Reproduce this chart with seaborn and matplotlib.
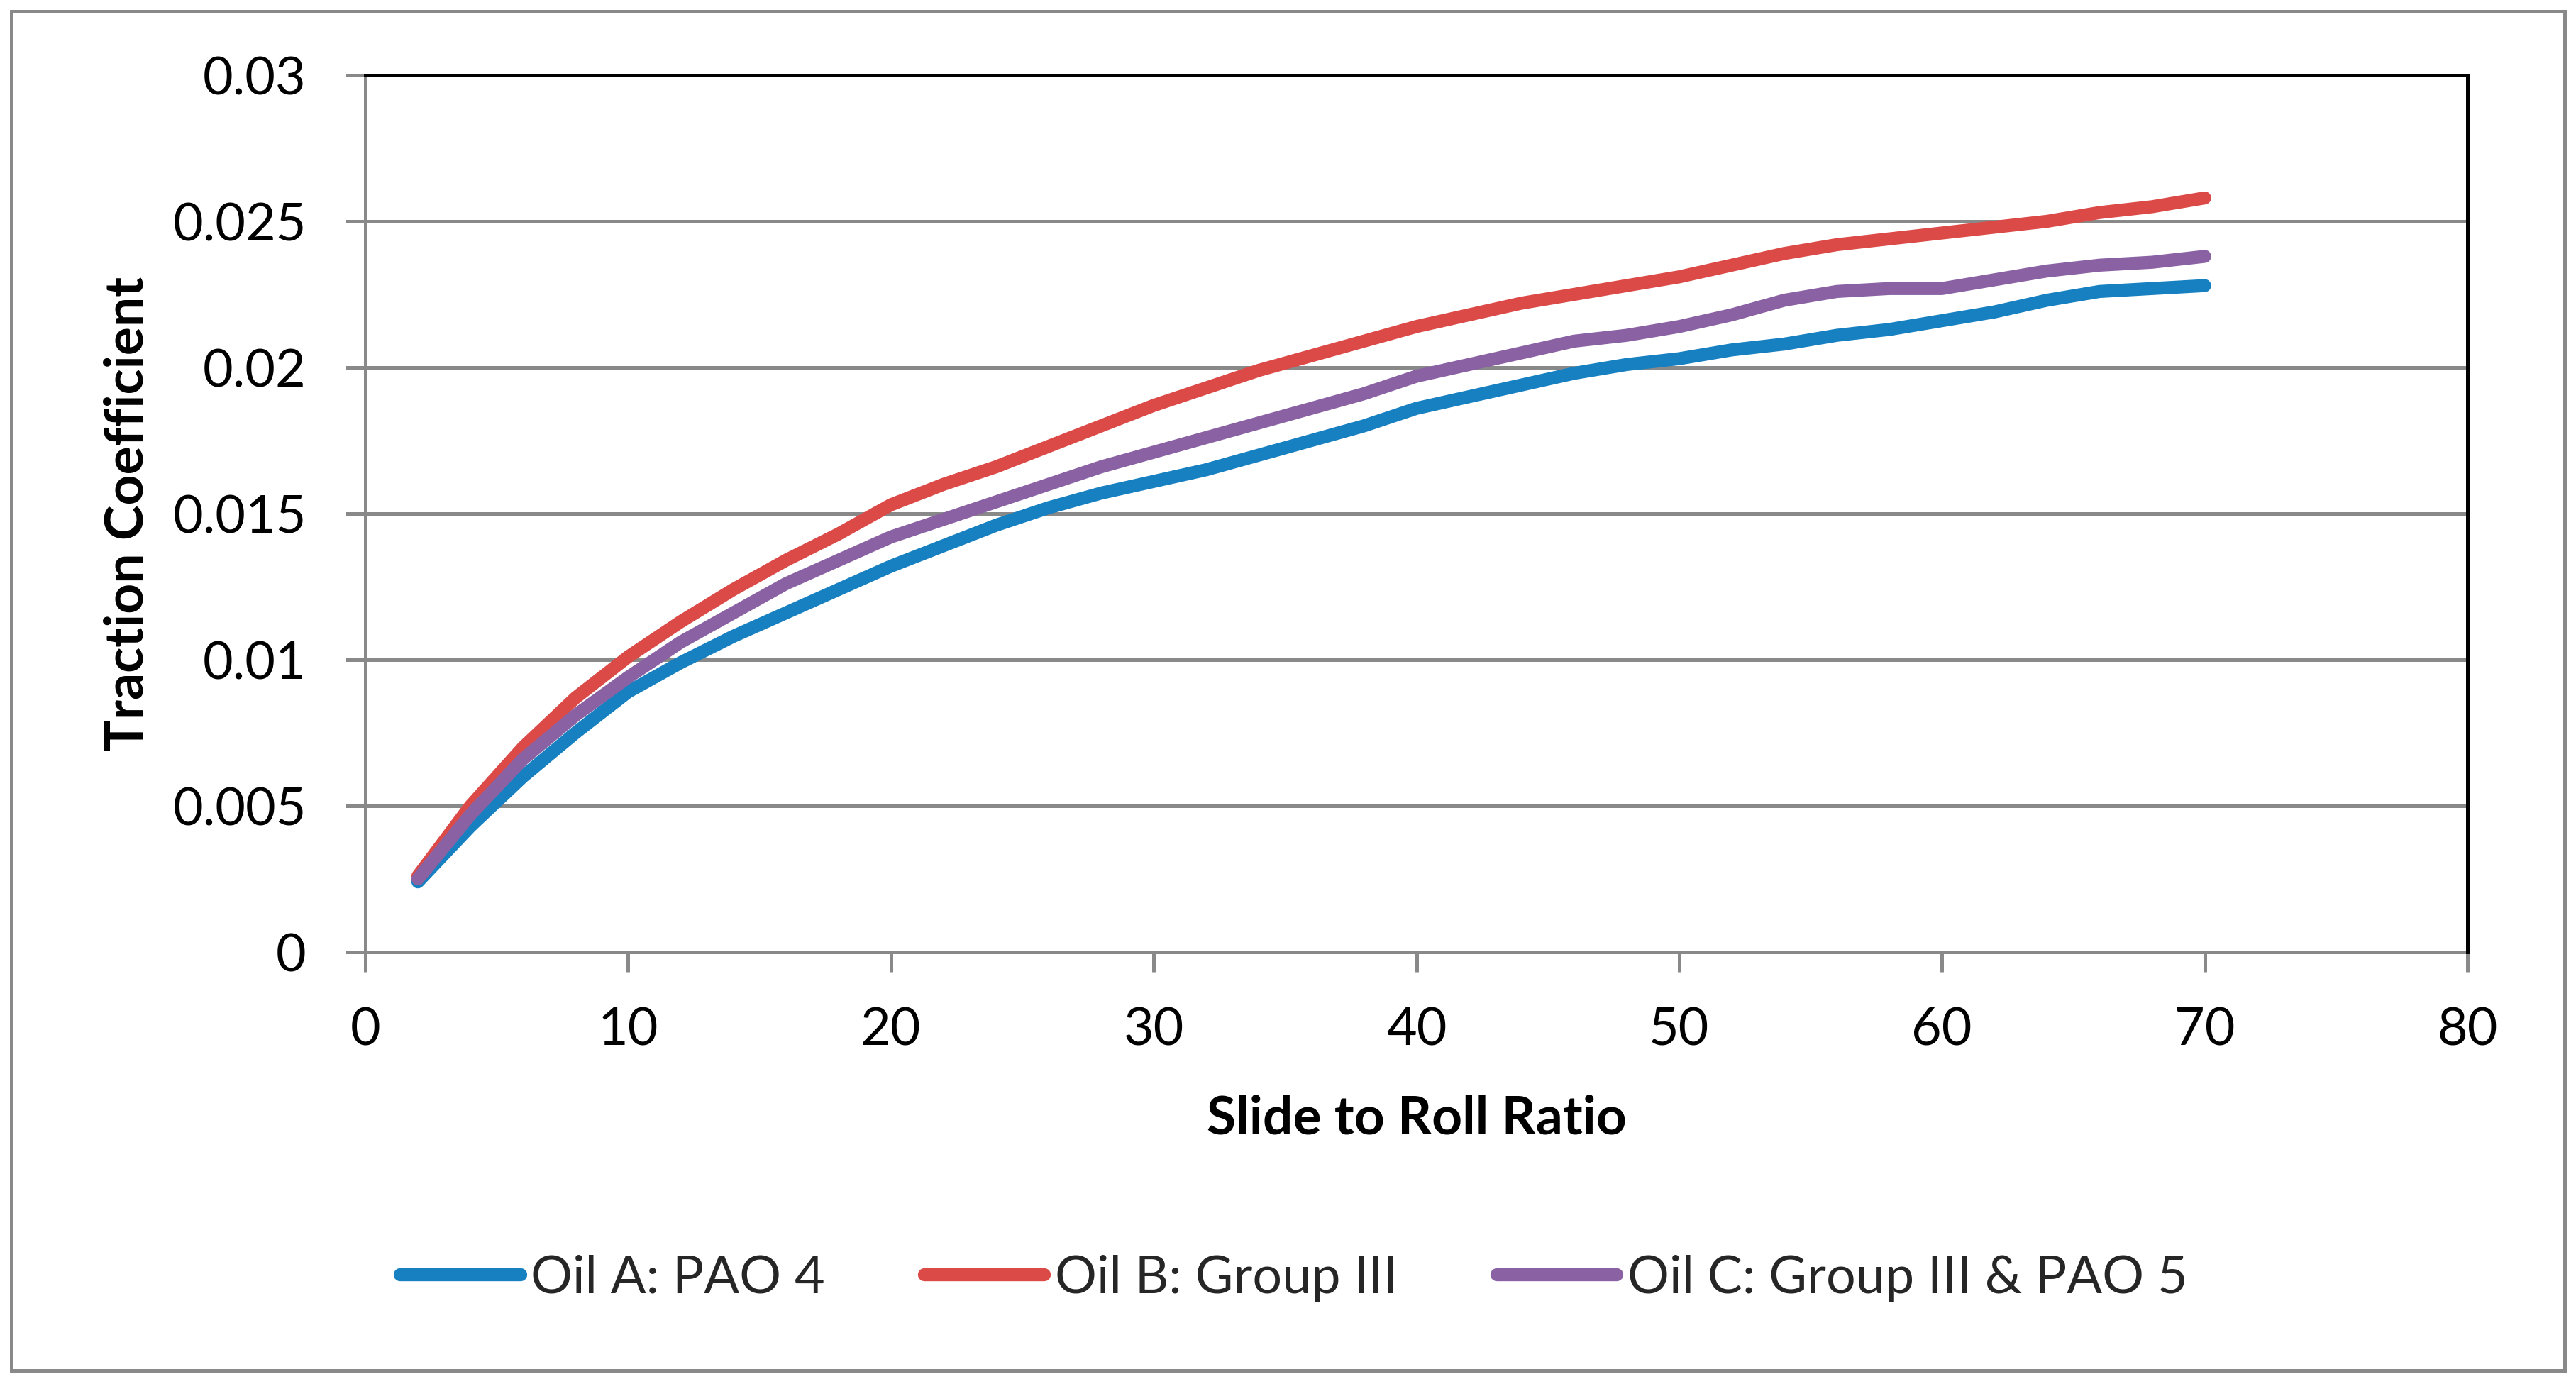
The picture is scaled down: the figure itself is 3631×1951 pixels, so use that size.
import matplotlib
matplotlib.use("Agg")
import matplotlib.pyplot as plt
import seaborn as sns
import pandas as pd
from matplotlib.patches import Rectangle

# ---- data ----
slide_roll = [2, 4, 6, 8, 10, 12, 14, 16, 18, 20, 22, 24, 26, 28, 30, 32, 34, 36,
              38, 40, 42, 44, 46, 48, 50, 52, 54, 56, 58, 60, 62, 64, 66, 68, 70]
oil_a = [0.0024, 0.0043, 0.0060, 0.0075, 0.0089, 0.0099, 0.0108, 0.0116, 0.0124,
         0.0132, 0.0139, 0.0146, 0.0152, 0.0157, 0.0161, 0.0165, 0.0170, 0.0175,
         0.0180, 0.0186, 0.0190, 0.0194, 0.0198, 0.0201, 0.0203, 0.0206, 0.0208,
         0.0211, 0.0213, 0.0216, 0.0219, 0.0223, 0.0226, 0.0227, 0.0228]
oil_b = [0.0026, 0.0050, 0.0070, 0.0087, 0.0101, 0.0113, 0.0124, 0.0134, 0.0143,
         0.0153, 0.0160, 0.0166, 0.0173, 0.0180, 0.0187, 0.0193, 0.0199, 0.0204,
         0.0209, 0.0214, 0.0218, 0.0222, 0.0225, 0.0228, 0.0231, 0.0235, 0.0239,
         0.0242, 0.0244, 0.0246, 0.0248, 0.0250, 0.0253, 0.0255, 0.0258]
oil_c = [0.0025, 0.0047, 0.0066, 0.0081, 0.0094, 0.0106, 0.0116, 0.0126, 0.0134,
         0.0142, 0.0148, 0.0154, 0.0160, 0.0166, 0.0171, 0.0176, 0.0181, 0.0186,
         0.0191, 0.0197, 0.0201, 0.0205, 0.0209, 0.0211, 0.0214, 0.0218, 0.0223,
         0.0226, 0.0227, 0.0227, 0.0230, 0.0233, 0.0235, 0.0236, 0.0238]
series_names = ["Oil A: PAO 4", "Oil B: Group III", "Oil C: Group III & PAO 5"]
series_colors = ["#1780C1", "#DC4A48", "#8A62A4"]
x_ticks = [0, 10, 20, 30, 40, 50, 60, 70, 80]
y_ticks = [0, 0.005, 0.01, 0.015, 0.02, 0.025, 0.03]
y_tick_labels = ["0", "0.005", "0.01", "0.015", "0.02", "0.025", "0.03"]

frames = []
for name, vals in zip(series_names, [oil_a, oil_b, oil_c]):
    frames.append(pd.DataFrame({"x": slide_roll, "y": vals, "Oil": name}))
df = pd.concat(frames, ignore_index=True)

sns.set_theme(style="white")
plt.rcParams["font.family"] = ["Lato", "DejaVu Sans"]

DPI = 200
fig = plt.figure(figsize=(3631 / DPI, 1951 / DPI), dpi=DPI)
fig.patch.set_facecolor("white")

L, R, T, B = 515, 3478, 106, 1342
W, H = 3631, 1951
ax = fig.add_axes([L / W, 1 - B / H, (R - L) / W, (B - T) / H])

grey = "#898989"
sns.lineplot(data=df, x="x", y="y", hue="Oil", palette=series_colors,
             hue_order=series_names, estimator=None, sort=False,
             linewidth=6.6, ax=ax, legend=True)
for ln in ax.get_lines():
    ln.set_solid_capstyle("round")
    ln.set_solid_joinstyle("round")

ax.set_xlim(0, 80)
ax.set_ylim(0, 0.03)
ax.set_xticks(x_ticks)
ax.set_xticklabels([str(t) for t in x_ticks])
ax.set_yticks(y_ticks)
ax.set_yticklabels(y_tick_labels)

ax.yaxis.grid(True, color=grey, linewidth=1.8)
ax.xaxis.grid(False)
ax.set_axisbelow(True)

for side in ["left", "bottom"]:
    ax.spines[side].set_color(grey)
    ax.spines[side].set_linewidth(1.8)
for side in ["top", "right"]:
    ax.spines[side].set_color("black")
    ax.spines[side].set_linewidth(1.8)
    ax.spines[side].set_zorder(5)

ax.tick_params(axis="both", which="major", direction="out", length=10,
               width=1.8, color=grey, labelsize=26.5, labelcolor="black")
ax.tick_params(axis="y", pad=20)
ax.tick_params(axis="x", pad=18)
ax.tick_params(left=True, bottom=True)

ax.set_xlabel("Slide to Roll Ratio", fontsize=27, fontweight="bold", color="black")
ax.set_ylabel("Traction Coefficient", fontsize=27, fontweight="bold", color="black")
ax.xaxis.set_label_coords(0.5, -0.190)
ax.yaxis.set_label_coords(-0.113, 0.5)
ax.xaxis.label.set_verticalalignment("center")
ax.yaxis.label.set_verticalalignment("center")

handles, labels = ax.get_legend_handles_labels()
ax.get_legend().remove()
leg = fig.legend(handles, labels, loc="center", bbox_to_anchor=(1824 / W, 1 - 1802 / H),
                 ncol=3, frameon=False, fontsize=26.5, handlelength=2.3,
                 handletextpad=0.2, columnspacing=1.9)
for lh in leg.get_lines():
    lh.set_linewidth(6.6)
    lh.set_solid_capstyle("round")

fig.add_artist(Rectangle((16 / W, 1 - 1932 / H), (3615 - 16) / W, (1932 - 16) / H,
                         transform=fig.transFigure, fill=False, edgecolor=grey,
                         linewidth=1.8))

fig.savefig("out.png", dpi=DPI, facecolor="white")
